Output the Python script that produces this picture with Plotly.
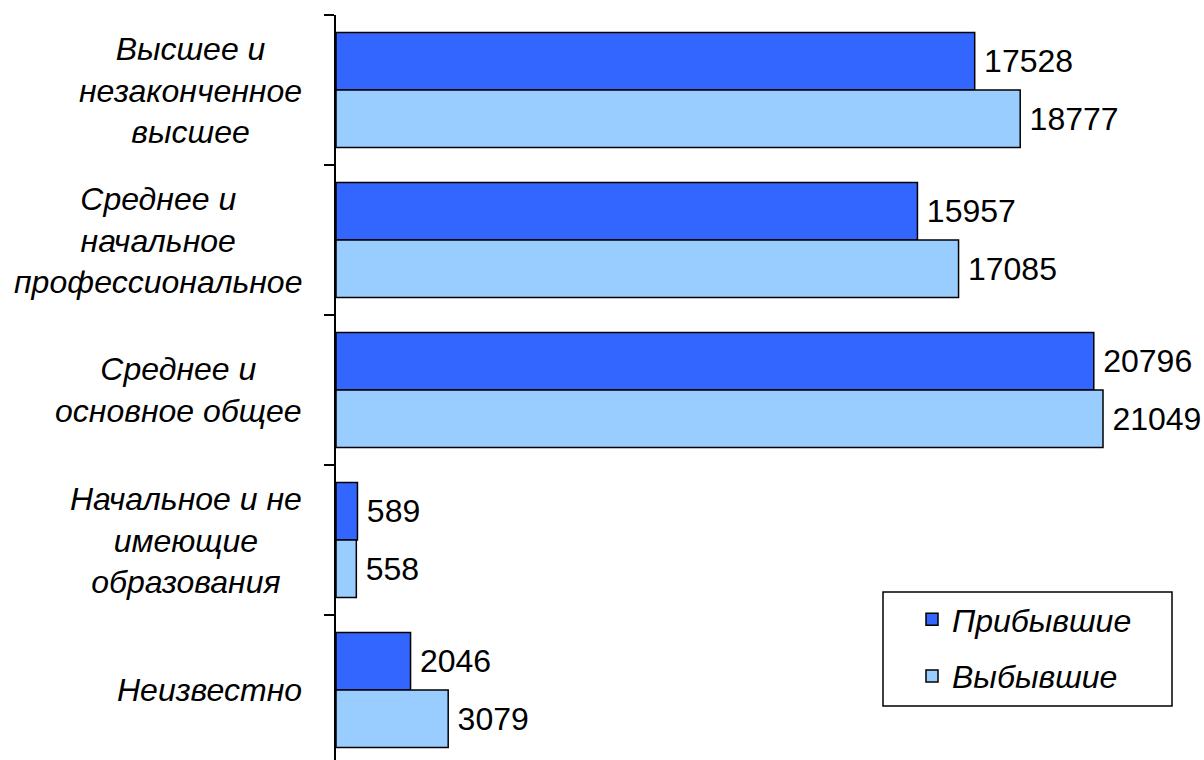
import plotly.graph_objects as go

categories = [
    "Высшее и<br>незаконченное<br>высшее",
    "Среднее и<br>начальное<br>профессиональное",
    "Среднее и<br>основное общее",
    "Начальное и не<br>имеющие<br>образования",
    "Неизвестно",
]
arrived = [17528, 15957, 20796, 589, 2046]
departed = [18777, 17085, 21049, 558, 3079]
series_names = ["Прибывшие", "Выбывшие"]
colors = ["#3366FF", "#99CCFF"]

FONT = "Liberation Sans, Arial, sans-serif"
FS = 32

L, R, T, B = 336, 50, 15, 0
PW = 1204 - L - R
PH = 760 - T - B


def px_x(px):
    return (px - L) / PW


def px_y(py):
    return (760 - B - py) / PH


fig = go.Figure()
for i, (name, vals) in enumerate(zip(series_names, [arrived, departed])):
    fig.add_trace(go.Bar(
        y=categories, x=vals, orientation="h", name=name,
        marker=dict(color=colors[i], line=dict(color="black", width=1.5)),
        text=[str(v) for v in vals],
        texttemplate="\u2009%{text}",
        textposition="outside",
        textfont=dict(family=FONT, size=FS, color="black"),
        cliponaxis=False,
        legendgroup=name,
        hoverinfo="skip",
    ))

for c in categories:
    fig.add_annotation(
        x=0, xref="paper", xshift=-32, xanchor="right",
        y=c, yref="y", yanchor="middle",
        text=c, align="center", showarrow=False,
        font=dict(family=FONT, size=FS, color="black", style="italic"),
    )

# legend frame
fig.add_shape(
    type="rect", xref="paper", yref="paper",
    x0=px_x(883), x1=px_x(1172), y0=px_y(706), y1=px_y(592),
    line=dict(color="black", width=1.5), fillcolor="white", layer="above",
)

fig.update_layout(
    width=1204, height=760,
    margin=dict(l=L, r=R, t=T, b=B, autoexpand=False),
    paper_bgcolor="white", plot_bgcolor="white",
    barmode="group", bargap=0.233, bargroupgap=0,
    showlegend=True,
    legend=dict(
        x=px_x(912), y=px_y(592),
        xanchor="left", yanchor="top",
        bgcolor="rgba(0,0,0,0)", borderwidth=0,
        font=dict(family=FONT, size=FS, color="black", style="italic"),
        traceorder="grouped", tracegroupgap=12,
    ),
    xaxis=dict(range=[0, PW / (767 / 21049)], visible=False),
    yaxis=dict(
        type="category",
        range=[-0.5 + PH / 150, -0.5],
        showticklabels=False, showgrid=False, zeroline=False,
        showline=True, linecolor="black", linewidth=2,
        ticks="outside", tickson="boundaries",
        ticklen=10, tickwidth=2, tickcolor="black",
    ),
)

fig.write_html(
    "out.html",
    config={"displayModeBar": False},
    post_script="document.body.style.margin='0';document.body.style.overflow='hidden';",
)
